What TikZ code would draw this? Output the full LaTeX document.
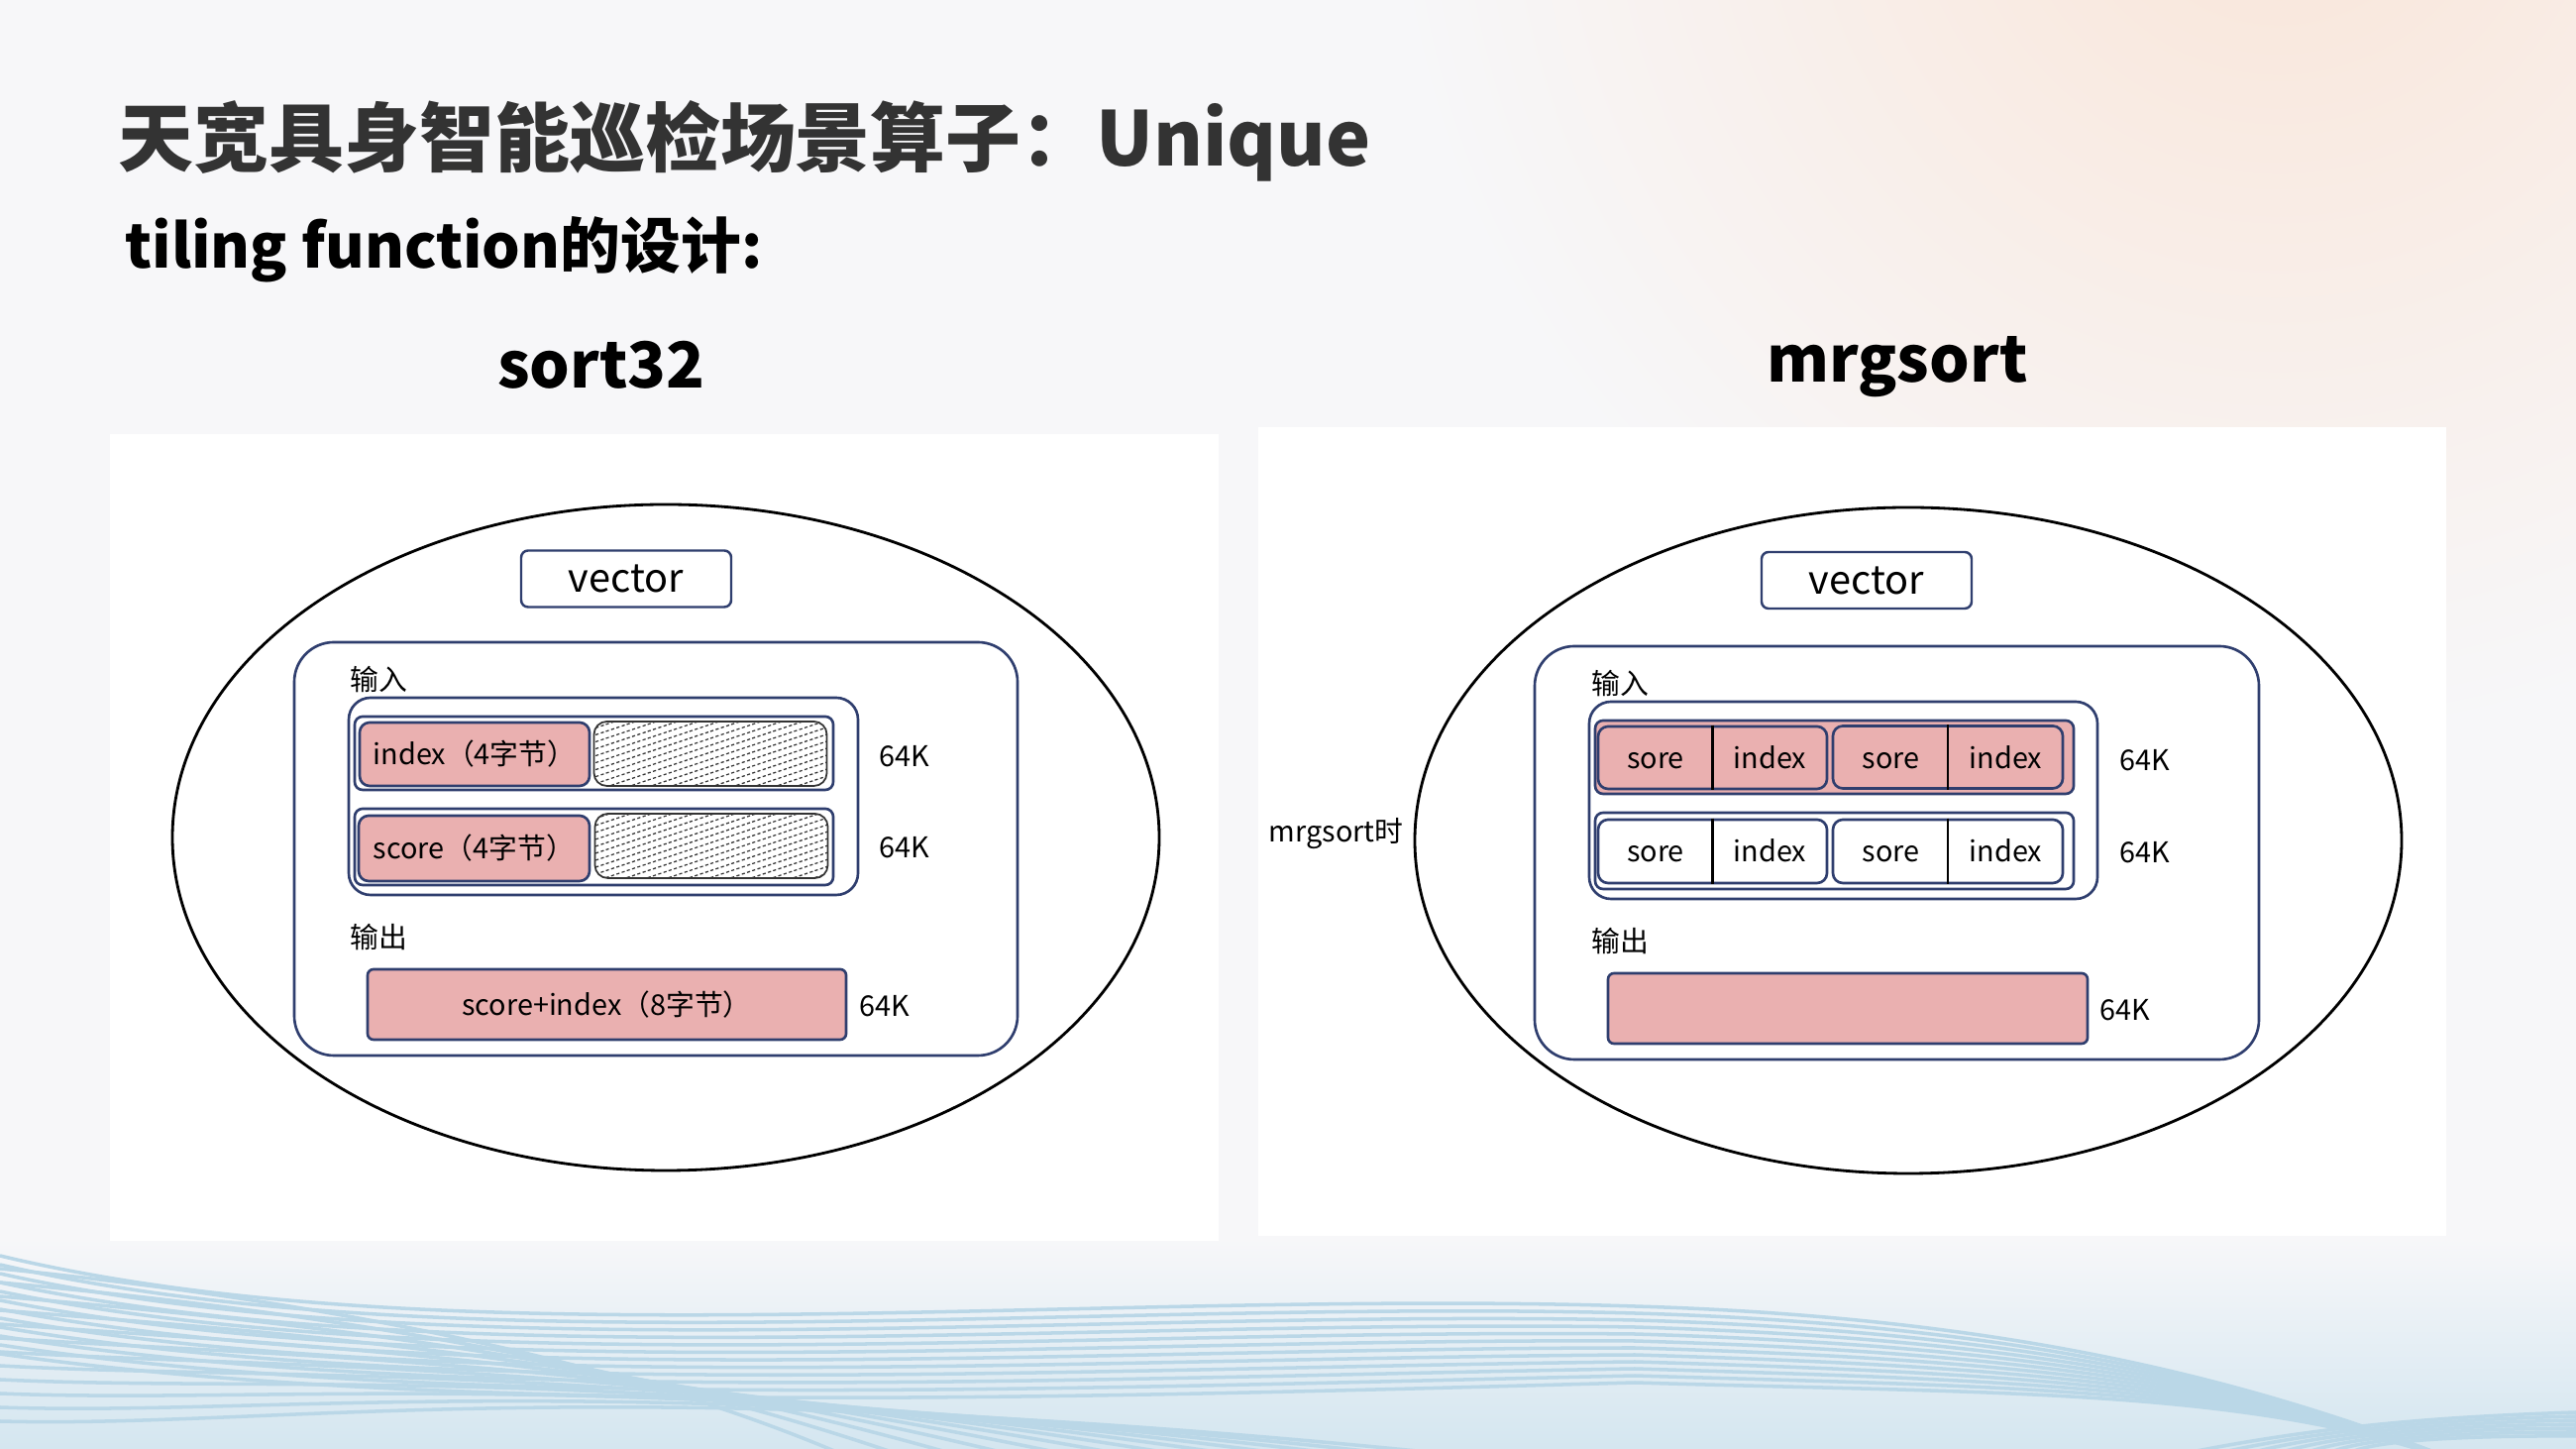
\documentclass[tikz,border=0pt]{standalone}
\usepackage{fontspec}
\setmainfont{Noto Sans CJK SC}
\usetikzlibrary{shapes.geometric}
\usetikzlibrary{patterns.meta}
\definecolor{navy}{RGB}{47,62,110}
\definecolor{cellpink}{RGB}{234,176,176}
\definecolor{titlegray}{RGB}{51,51,51}
\definecolor{bgbase}{RGB}{247,247,249}
\definecolor{peach}{RGB}{250,229,216}
\definecolor{haze}{RGB}{212,230,240}
\definecolor{wave}{RGB}{186,215,231}

\tikzdeclarepattern{
  name=slantdots,
  type=uncolored,
  bounding box={(-0.1pt,-0.1pt) and (6.1pt,2.1pt)},
  tile size={(6pt,2pt)},
  code={\draw[line width=0.35pt, dash pattern=on 0.9pt off 0.7pt] (0pt,0pt) -- (6pt,2pt);}
}

\begin{document}
\begin{tikzpicture}[x=1cm,y=-1cm,
	panel/.style={fill=white},
	oval/.style={draw=black, line width=0.8pt, ellipse, minimum width=9.96cm, minimum height=6.72cm, inner sep=0, outer sep=0},
	vecbox/.style={draw=navy, line width=0.7pt, rounded corners=0.07cm, minimum width=2.12cm, minimum height=0.57cm, inner sep=0, font=\fontsize{11.3}{13}\selectfont},
	bigbox/.style={draw=navy, line width=0.75pt, rounded corners=0.4cm, minimum width=7.3cm, minimum height=4.17cm, inner sep=0},
	grpbox/.style={draw=navy, line width=0.75pt, rounded corners=0.22cm, minimum width=5.13cm, minimum height=1.99cm, inner sep=0},
	rowbox/.style={draw=navy, line width=0.75pt, rounded corners=0.08cm, minimum width=4.83cm, inner sep=0},
	cell/.style={draw=navy, line width=0.75pt, rounded corners=0.1cm, fill=cellpink, minimum height=0.64cm, inner sep=0, font=\fontsize{8.2}{10}\selectfont},
	hatch/.style={draw=black!80, line width=0.5pt, rounded corners=0.13cm, pattern=slantdots, pattern color=black!80, minimum width=2.35cm, minimum height=0.65cm, inner sep=0},
	lbl/.style={font=\fontsize{8.2}{10}\selectfont, inner sep=0},
	sidelbl/.style={lbl, anchor=west},
	headline/.style={font=\bfseries\fontsize{18.2}{22}\selectfont, inner sep=0, anchor=base},
	]
	\useasboundingbox (0,0) rectangle (26,14.62);
	% background
	\begin{scope}
		\clip (0,0) rectangle (26,14.62);
		\fill[bgbase] (0,0) rectangle (26,14.62);
		\shade[inner color=peach, outer color=bgbase] (23,-1.5) circle (9);
		\shade[top color=bgbase, bottom color=haze] (0,12.5) rectangle (26,14.62);
		\foreach \k in {0,...,11}
			\draw[wave, line width=1pt] (0,12.67+0.09*\k) .. controls (4.5,13.75+0.05*\k) and (11,13.0+0.1*\k) .. (16.5,13.18+0.07*\k) .. controls (20.5,13.3+0.07*\k) and (23,14.0) .. (25.2,14.9);
		\foreach \k in {0,...,11}
			\draw[wave, line width=1pt] (0,12.8+0.14*\k) .. controls (3,13.1+0.12*\k) and (6.5,13.7) .. (9+0.7*\k,14.9);
		\foreach \k in {0,...,6}
			\draw[wave, line width=1pt] (21+0.5*\k,14.9) .. controls (23,14.4+0.03*\k) and (24.5,14.3+0.03*\k) .. (26,14.25+0.04*\k);
	\end{scope}
	\fill[panel] (1.11,4.38) rectangle (12.30,12.52);
	\fill[panel] (12.70,4.31) rectangle (24.69,12.47);

	% headings
	\node[anchor=base west, font=\bfseries\fontsize{21.6}{26}\selectfont, text=titlegray, inner sep=0] (title) at (1.19,1.68) {天宽具身智能巡检场景算子：Unique};
	\node[anchor=base west, font=\bfseries\fontsize{17.3}{22}\selectfont, inner sep=0] (subtitle) at (1.26,2.71) {tiling function的设计:};
	\node[headline] (sorthead) at (6.07,3.92) {sort32};
	\node[headline] (mrghead) at (19.15,3.86) {mrgsort};

	% sort32
	\node[oval] (ovalL) at (6.72,8.45) {};
	\node[vecbox] (vecL) at (6.32,5.84) {vector};
	\node[bigbox] (memL) at (6.62,8.565) {};
	\node[sidelbl] (inL) at (3.53,6.86) {输入};
	\node[grpbox, minimum width=5.14cm] (grpL) at (6.09,8.035) {};
	\node[rowbox, minimum height=0.74cm] (rowL1) at (5.995,7.60) {};
	\node[cell, minimum width=2.32cm] (idxL) at (4.79,7.61) {index（4字节）};
	\node[hatch] (padL1) at (7.17,7.605) {};
	\node[sidelbl] (szL1) at (8.87,7.63) {64K};
	\node[rowbox, minimum height=0.77cm] (rowL2) at (5.995,8.545) {};
	\node[cell, minimum width=2.33cm, minimum height=0.66cm] (scoL) at (4.785,8.56) {score（4字节）};
	\node[hatch] (padL2) at (7.18,8.535) {};
	\node[sidelbl] (szL2) at (8.87,8.555) {64K};
	\node[sidelbl] (outL) at (3.53,9.455) {输出};
	\node[cell, rounded corners=0.06cm, minimum width=4.83cm, minimum height=0.71cm] (barL) at (6.125,10.135) {score+index（8字节）};
	\node[sidelbl] (szL3) at (8.67,10.15) {64K};

	% mrgsort
	\node[lbl, anchor=west] (whenR) at (12.80,8.41) {mrgsort时};
	\node[oval] (ovalR) at (19.26,8.48) {};
	\node[vecbox] (vecR) at (18.84,5.855) {vector};
	\node[bigbox, minimum width=7.31cm] (memR) at (19.145,8.605) {};
	\node[sidelbl] (inR) at (16.06,6.90) {输入};
	\node[grpbox] (grpR) at (18.605,8.075) {};
	\node[rowbox, fill=cellpink, minimum height=0.74cm] (rowR1) at (18.515,7.64) {};
	\node[cell, minimum width=2.31cm, minimum height=0.63cm] (pairR1) at (17.285,7.645) {};
	\node[cell, minimum width=2.32cm, minimum height=0.63cm] (pairR2) at (19.66,7.64) {};
	\draw[line width=0.6pt] (pairR1.north) -- (pairR1.south);
	\draw[line width=0.6pt] (pairR2.north) -- (pairR2.south);
	\node[lbl, anchor=base] (soR1) at (16.71,7.76) {sore};
	\node[lbl, anchor=base] (ixR1) at (17.865,7.76) {index};
	\node[lbl, anchor=base] (soR2) at (19.085,7.76) {sore};
	\node[lbl, anchor=base] (ixR2) at (20.245,7.76) {index};
	\node[sidelbl] (szR1) at (21.39,7.67) {64K};
	\node[rowbox, minimum height=0.77cm] (rowR2) at (18.515,8.585) {};
	\node[cell, fill=white, minimum width=2.31cm] (pairR3) at (17.285,8.59) {};
	\node[cell, fill=white, minimum width=2.32cm] (pairR4) at (19.66,8.59) {};
	\draw[line width=0.6pt] (pairR3.north) -- (pairR3.south);
	\draw[line width=0.6pt] (pairR4.north) -- (pairR4.south);
	\node[lbl, anchor=base] (soR3) at (16.71,8.70) {sore};
	\node[lbl, anchor=base] (ixR3) at (17.865,8.70) {index};
	\node[lbl, anchor=base] (soR4) at (19.085,8.70) {sore};
	\node[lbl, anchor=base] (ixR4) at (20.245,8.70) {index};
	\node[sidelbl] (szR2) at (21.39,8.60) {64K};
	\node[sidelbl] (outR) at (16.06,9.50) {输出};
	\node[cell, rounded corners=0.06cm, minimum width=4.84cm, minimum height=0.71cm] (barR) at (18.65,10.175) {};
	\node[sidelbl] (szR3) at (21.19,10.19) {64K};
\end{tikzpicture}
\end{document}
